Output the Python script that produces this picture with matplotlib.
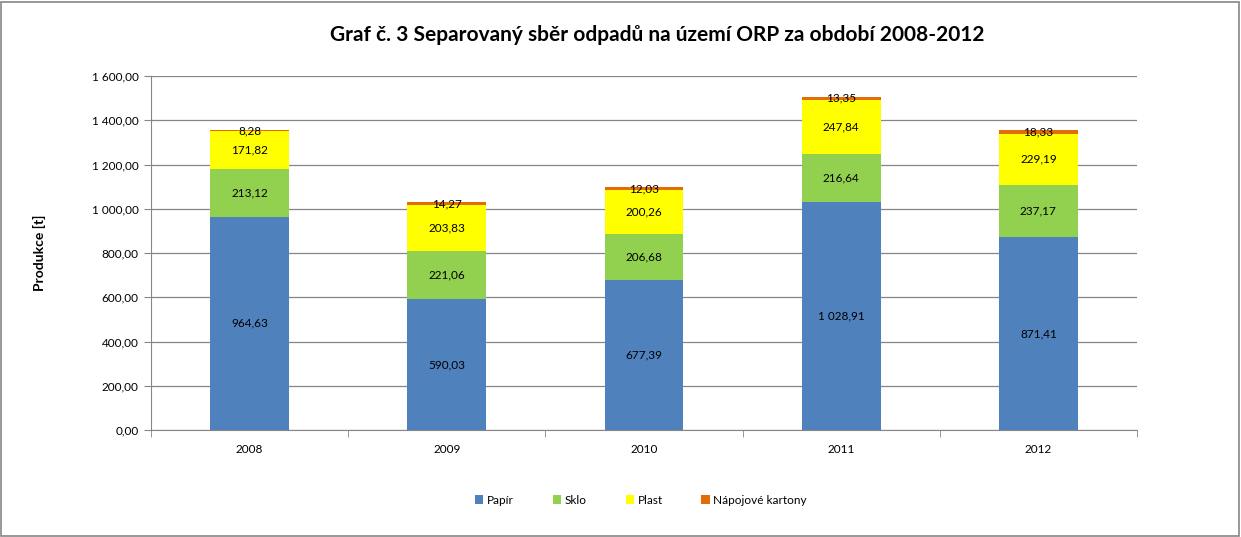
import numpy as np
import matplotlib.pyplot as plt
from matplotlib.patches import Rectangle

plt.rcParams['font.family'] = ['Lato', 'DejaVu Sans']

roky = ['2008', '2009', '2010', '2011', '2012']
papir = [964.63, 590.03, 677.39, 1028.91, 871.41]
sklo = [213.12, 221.06, 206.68, 216.64, 237.17]
plast = [171.82, 203.83, 200.26, 247.84, 229.19]
kartony = [8.28, 14.27, 12.03, 13.35, 18.33]

serie = [('Papír', papir, '#4F81BD'),
         ('Sklo', sklo, '#92D050'),
         ('Plast', plast, '#FFFF00'),
         ('Nápojové kartony', kartony, '#E36C09')]

def fmt(v):
    s = '{:,.2f}'.format(v)
    return s.replace(',', ' ').replace('.', ',')

fig = plt.figure(figsize=(12.41, 5.37), dpi=100)
fig.patches.append(Rectangle((0.001, 0.002), 0.997, 0.995, transform=fig.transFigure,
                             fill=False, edgecolor='#868686', linewidth=1.2))
ax = fig.add_axes([151/1241, 1 - 430/537, (1137-151)/1241, (430-76)/537])

x = np.arange(len(roky))
dole = np.zeros(len(roky))
for nazev, hodnoty, barva in serie:
    h = np.array(hodnoty)
    ax.bar(x, h, 0.4, bottom=dole, color=barva, label=nazev, zorder=3)
    for xi, b, v in zip(x, dole, h):
        ax.text(xi, b + v / 2, fmt(v), ha='center', va='center', fontsize=8.5, zorder=4)
    dole = dole + h

ax.set_xlim(-0.5, 4.5)
ax.set_ylim(0, 1600)
ax.set_yticks(np.arange(0, 1601, 200))
ax.set_yticklabels([fmt(v) for v in np.arange(0, 1601, 200)], fontsize=8.5)
ax.set_xticks(x)
ax.set_xticklabels(roky, fontsize=8.5)
ax.set_xticks(np.arange(-0.5, 4.6, 1), minor=True)
ax.tick_params(axis='x', which='major', length=0, pad=10)
ax.tick_params(axis='x', which='minor', length=5, color='#868686')
ax.tick_params(axis='y', length=5, color='#868686', pad=4)
ax.grid(axis='y', color='#868686', linewidth=0.9, zorder=0)
for s in ['top', 'right']:
    ax.spines[s].set_visible(False)
for s in ['left', 'bottom']:
    ax.spines[s].set_color('#868686')

ax.set_ylabel('Produkce [t]', fontsize=10, fontweight='bold', labelpad=33)
fig.text(657/1241, 1 - 35/537, 'Graf č. 3 Separovaný sběr odpadů na území ORP za období 2008-2012',
         ha='center', va='center', fontsize=15, fontweight='bold')

ax.legend(loc='center', bbox_to_anchor=(641/1241, 1 - 500/537), bbox_transform=fig.transFigure,
          ncol=4, frameon=False, fontsize=8.5, handlelength=0.7, handleheight=0.7,
          handletextpad=0.3, columnspacing=3.3)

fig.savefig('out.png', dpi=100)
